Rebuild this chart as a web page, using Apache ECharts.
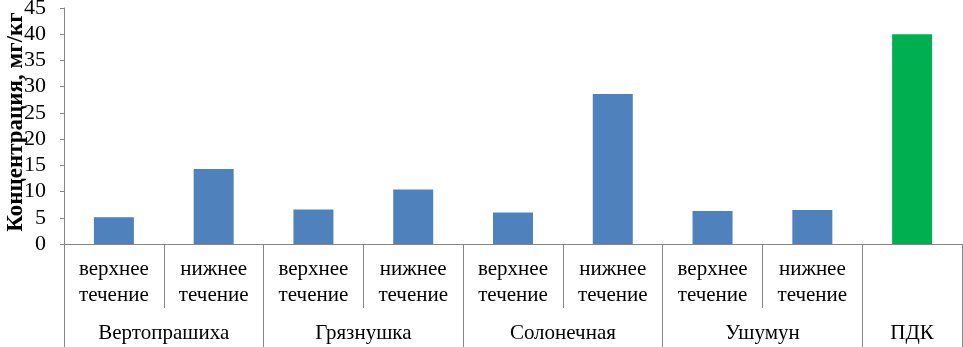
<!DOCTYPE html>
<html>
<head>
<meta charset="utf-8">
<script src="https://cdn.jsdelivr.net/npm/echarts@6/dist/echarts.min.js"></script>
<style>
html, body { margin: 0; padding: 0; background: #fff; }
#chart { width: 963px; height: 347px; }
</style>
</head>
<body>
<div id="chart"></div>
<script>
// подписи и значения
var subLabels = ['верхнее\nтечение', 'нижнее\nтечение', 'верхнее\nтечение', 'нижнее\nтечение',
    'верхнее\nтечение', 'нижнее\nтечение', 'верхнее\nтечение', 'нижнее\nтечение', ''];
var groupNames = ['Вертопрашиха', 'Грязнушка', 'Солонечная', 'Ушумун', 'ПДК'];
var groupSpans = [2, 2, 2, 2, 1];
var values = [5.1, 14.3, 6.6, 10.4, 6.0, 28.6, 6.3, 6.5, 40];
var yTicks = [0, 5, 10, 15, 20, 25, 30, 35, 40, 45];

var font = '"Liberation Serif", "DejaVu Serif", serif';
var axisColor = '#868686';

// вторая ось: точки по половинам категорий, подпись группы в центре группы
var groupPoints = [];
var groupEdges = {};
var pos = 0;
groupEdges[0] = true;
for (var i = 0; i < groupSpans.length; i++) {
    pos += groupSpans[i] * 2;
    groupEdges[pos] = true;
}
for (var k = 0; k <= pos; k++) groupPoints.push('');
pos = 0;
for (var g = 0; g < groupNames.length; g++) {
    groupPoints[pos + groupSpans[g]] = groupNames[g];
    pos += groupSpans[g] * 2;
}

var barData = values.map(function (v, i) {
    return {
        value: v,
        itemStyle: { color: i === values.length - 1 ? '#00B050' : '#4F81BD' }
    };
});

var chart = echarts.init(document.getElementById('chart'));
chart.setOption({
    animation: false,
    grid: { left: 64, right: 1, top: 8, bottom: 103, containLabel: false, outerBoundsMode: 'none' },
    xAxis: [{
        type: 'category',
        data: subLabels,
        position: 'bottom',
        axisLine: { lineStyle: { color: axisColor, width: 1 } },
        axisTick: { show: true, length: 64, lineStyle: { color: axisColor } },
        axisLabel: {
            interval: 0,
            margin: 12,
            color: '#000',
            fontFamily: font,
            fontSize: 21,
            lineHeight: 26
        }
    }, {
        type: 'category',
        data: groupPoints,
        position: 'bottom',
        boundaryGap: false,
        axisLine: { show: false },
        axisTick: {
            show: true,
            length: 103,
            interval: function (idx) { return !!groupEdges[idx]; },
            lineStyle: { color: axisColor }
        },
        axisLabel: {
            interval: 0,
            margin: 79,
            color: '#000',
            fontFamily: font,
            fontSize: 21
        }
    }],
    yAxis: {
        type: 'value',
        min: yTicks[0],
        max: yTicks[yTicks.length - 1],
        interval: 5,
        name: 'Концентрация, мг/кг',
        nameLocation: 'middle',
        nameGap: 36,
        nameMoveOverlap: false,
        nameTextStyle: {
            fontFamily: font, fontSize: 23, fontWeight: 'bold', color: '#000',
            padding: [0, 0, 0, 8]
        },
        axisLine: { show: true, lineStyle: { color: axisColor } },
        axisTick: { show: true, length: 4, lineStyle: { color: axisColor } },
        splitLine: { show: false },
        axisLabel: { color: '#000', fontFamily: font, fontSize: 22, margin: 18 }
    },
    series: [{
        type: 'bar',
        xAxisIndex: 0,
        barWidth: 40,
        data: barData
    }]
});
</script>
</body>
</html>
